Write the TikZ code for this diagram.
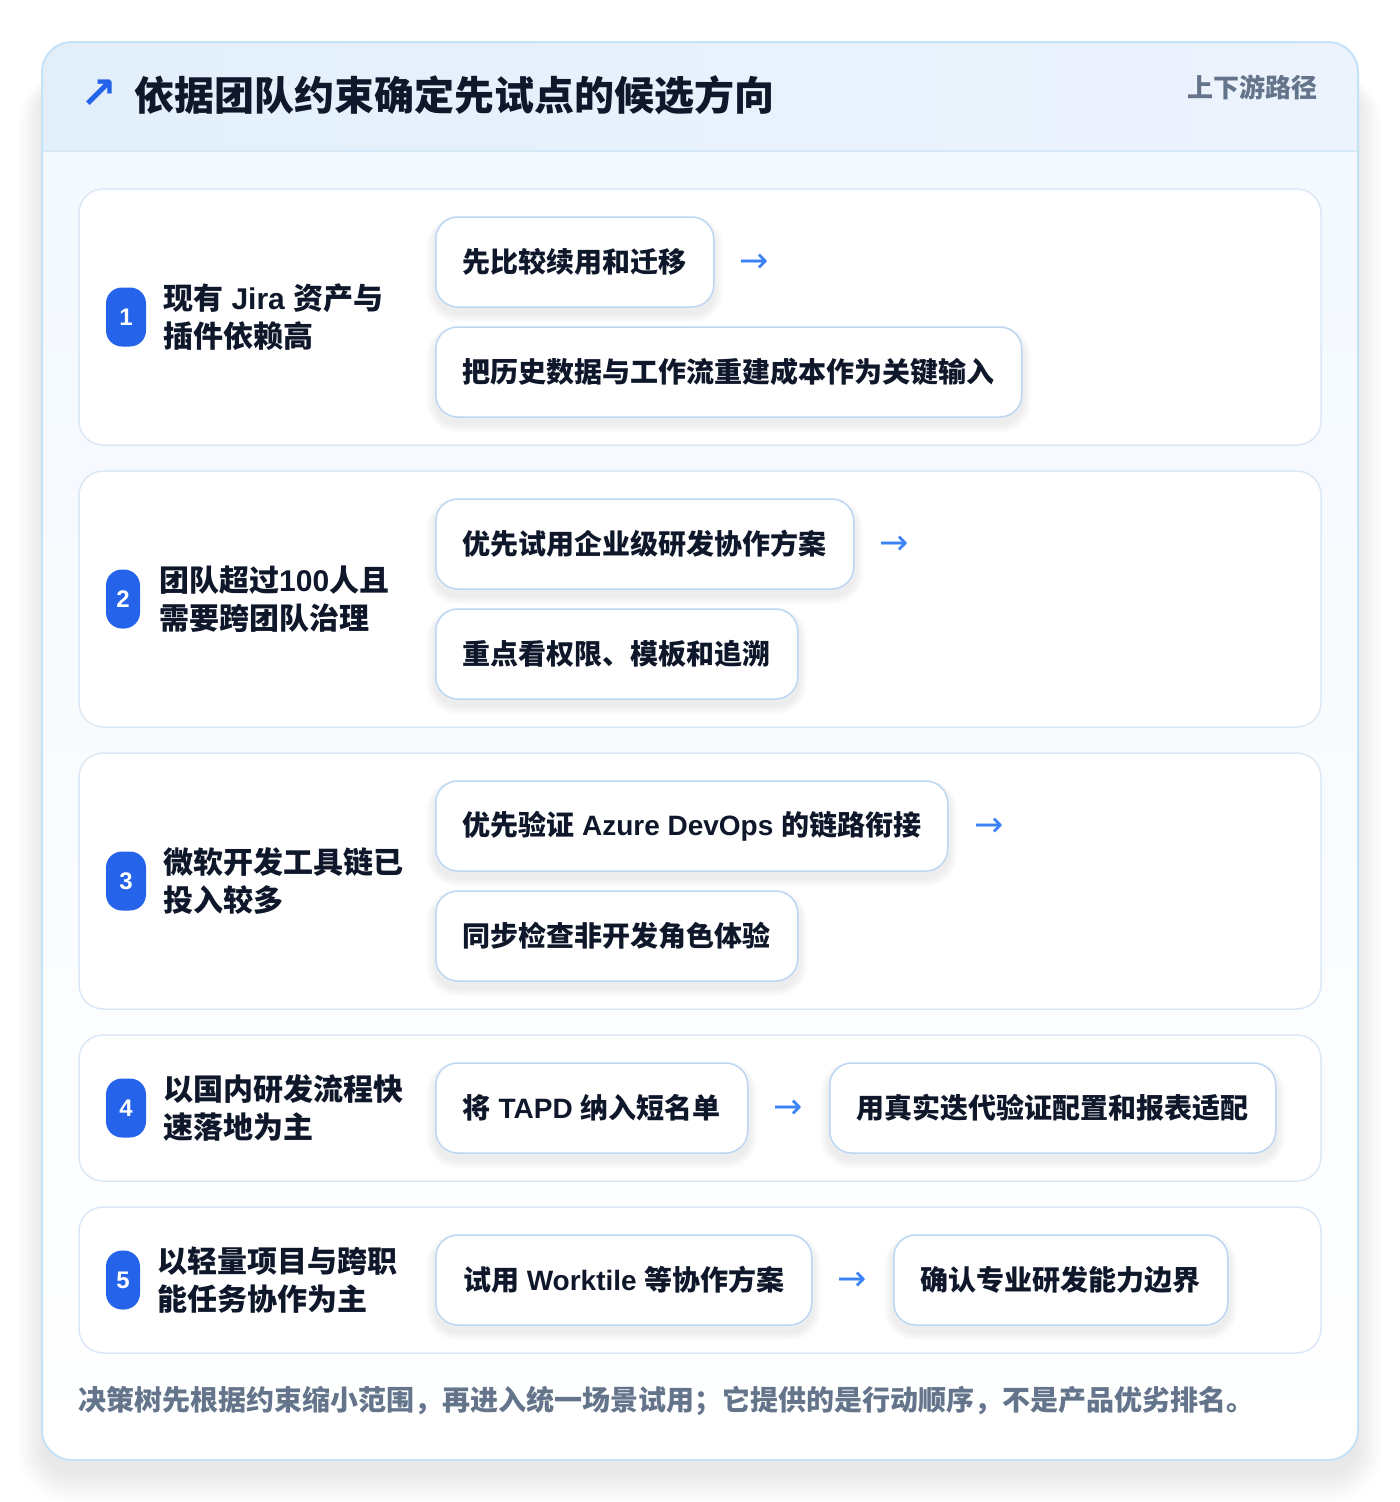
\documentclass[tikz,border=0pt]{standalone}
\usepackage{fontspec}
\setmainfont{Liberation Sans}
\newfontfamily\cjk{Noto Sans CJK SC}
\newfontfamily\lat{Liberation Sans}
\newfontfamily\sym{DejaVu Sans}
\pgfdeclarelayer{back}
\pgfdeclarelayer{shade}
\pgfsetlayers{back,shade,main}
\definecolor{ink}{HTML}{0F172A}
\definecolor{blueA}{HTML}{2563EB}
\definecolor{arrowblue}{HTML}{3B82F6}
\definecolor{muted}{HTML}{64748B}
\definecolor{outerline}{HTML}{C4E3F6}
\definecolor{hdrL}{HTML}{E2EFFB}
\definecolor{hdrR}{HTML}{EDF3FD}
\definecolor{hdrline}{HTML}{D6E7F7}
\definecolor{bodytop}{HTML}{F2F8FE}
\definecolor{cardline}{HTML}{DCE8F5}
\definecolor{boxline}{HTML}{BDD7F3}
\begin{document}
\begin{tikzpicture}[x=1pt,y=-1pt,
  rowcard/.style={draw=cardline,line width=1.5pt,fill=white,rounded corners=24pt},
  badge/.style={fill=blueA,rounded corners=16pt,text=white,inner sep=0pt,
    minimum height=59pt,font=\lat\bfseries\fontsize{24}{24}\selectfont},
  rowlabel/.style={anchor=west,align=left,inner sep=0pt,text=ink,
    font=\cjk\bfseries\fontsize{30}{38}\selectfont},
  stepbox/.style={anchor=west,draw=boxline,line width=1.5pt,fill=white,
    rounded corners=22pt,minimum height=90pt,inner xsep=0pt,text=ink,
    font=\cjk\bfseries\fontsize{28}{28}\selectfont},
  arrowtxt/.style={inner sep=0pt,text=arrowblue,font=\sym\fontsize{35}{35}\selectfont},
]
\useasboundingbox (0,0) rectangle (1400,1502);
\begin{pgfonlayer}{back}
\fill[white] (0,0) rectangle (1400,1502);
% outer card shadow
\foreach \k in {1,...,22}{
  \fill[black,opacity=0.0055,rounded corners=30pt+\k pt]
    (42-\k*1.1,42+40-\k*0.4) rectangle (1358+\k*1.1,1460+12+\k*1.4);
}
% outer card
\shade[rounded corners=30pt,top color=bodytop,bottom color=white] (42,42) rectangle (1358,1460);
\begin{scope}
  \clip[rounded corners=30pt] (42,42) rectangle (1358,1460);
  \shade[left color=hdrL,right color=hdrR] (42,42) rectangle (1358,151);
\end{scope}
\draw[hdrline,line width=1.5pt] (42,151) -- (1358,151);
\draw[outerline,line width=2pt,rounded corners=30pt] (42,42) rectangle (1358,1460);
% row cards
\path[rowcard] (79,189) rectangle (1321,445);
\path[rowcard] (79,471) rectangle (1321,727);
\path[rowcard] (79,753) rectangle (1321,1009);
\path[rowcard] (79,1035) rectangle (1321,1181);
\path[rowcard] (79,1207) rectangle (1321,1353);
\end{pgfonlayer}

% header
\node[inner sep=0pt,text=blueA,font=\sym\bfseries\fontsize{44}{44}\selectfont] (ticon) at (99,94) {↗};
\node[anchor=west,inner sep=0pt,text=ink,font=\cjk\bfseries\fontsize{40}{48}\selectfont] (title) at (134,95) {依据团队约束确定先试点的候选方向};
\node[anchor=east,inner sep=0pt,text=muted,font=\cjk\bfseries\fontsize{26}{26}\selectfont] (tag) at (1318,87) {上下游路径};

% row 1
\node[badge,minimum width=40pt] (b1) at (126,317) {1};
\node[rowlabel] (l1) at (163,317) {现有{\lat\ Jira }资产与\\插件依赖高};
\node[stepbox,minimum width=278pt] (s11) at (435,262) {先比较续用和迁移};
\node[arrowtxt] (a1) at (754,263) {→};
\node[stepbox,minimum width=586pt] (s12) at (435,372) {把历史数据与工作流重建成本作为关键输入};

% row 2
\node[badge,minimum width=34pt] (b2) at (123,599) {2};
\node[rowlabel] (l2) at (159,599) {团队超过{\lat 100}人且\\需要跨团队治理};
\node[stepbox,minimum width=418pt] (s21) at (435,544) {优先试用企业级研发协作方案};
\node[arrowtxt] (a2) at (894,545) {→};
\node[stepbox,minimum width=362pt] (s22) at (435,654) {重点看权限、模板和追溯};

% row 3
\node[badge,minimum width=40pt] (b3) at (126,881) {3};
\node[rowlabel] (l3) at (163,881) {微软开发工具链已\\投入较多};
\node[stepbox,minimum width=512pt] (s31) at (435,826) {优先验证{\lat\ Azure DevOps }的链路衔接};
\node[arrowtxt] (a3) at (989,827) {→};
\node[stepbox,minimum width=362pt] (s32) at (435,936) {同步检查非开发角色体验};

% row 4
\node[badge,minimum width=40pt] (b4) at (126,1108) {4};
\node[rowlabel] (l4) at (163,1108) {以国内研发流程快\\速落地为主};
\node[stepbox,minimum width=312pt] (s41) at (435,1108) {将{\lat\ TAPD }纳入短名单};
\node[arrowtxt] (a4) at (788,1109) {→};
\node[stepbox,minimum width=446pt] (s42) at (829,1108) {用真实迭代验证配置和报表适配};

% row 5
\node[badge,minimum width=34pt] (b5) at (123,1280) {5};
\node[rowlabel] (l5) at (157,1280) {以轻量项目与跨职\\能任务协作为主};
\node[stepbox,minimum width=376pt] (s51) at (435,1280) {试用{\lat\ Worktile }等协作方案};
\node[arrowtxt] (a5) at (852,1281) {→};
\node[stepbox,minimum width=334pt] (s52) at (893,1280) {确认专业研发能力边界};

% soft shadows under the step boxes
\begin{pgfonlayer}{shade}
\foreach \n in {s11,s12,s21,s22,s31,s32,s41,s42,s51,s52}{
  \foreach \k in {1,...,9}{
    \fill[black,opacity=0.006,rounded corners=22pt+\k pt]
      ([xshift=-\k pt,yshift=-6pt-\k pt]\n.south west) rectangle
      ([xshift=\k pt,yshift=-4pt+\k pt*0.5]\n.north east);
  }
}
\end{pgfonlayer}

% footer
\node[anchor=west,inner sep=0pt,text=muted,font=\cjk\bfseries\fontsize{28}{28}\selectfont] (foot) at (78,1401) {决策树先根据约束缩小范围，再进入统一场景试用；它提供的是行动顺序，不是产品优劣排名。};
\end{tikzpicture}
\end{document}
